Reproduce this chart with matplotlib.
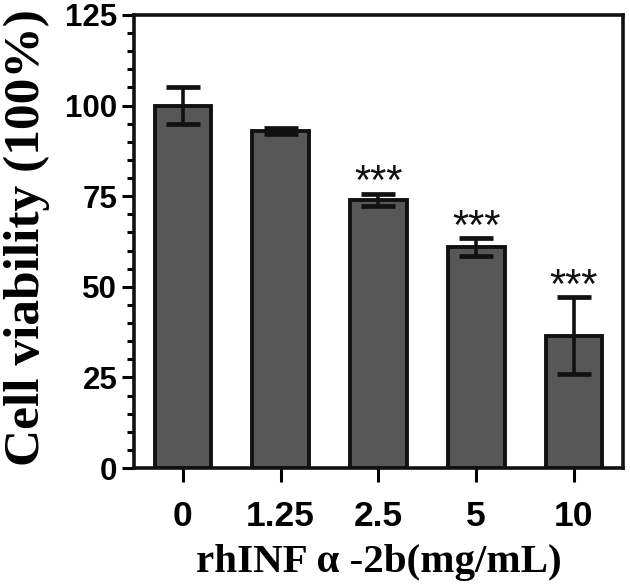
import numpy as np
import matplotlib
matplotlib.use("Agg")
import matplotlib.pyplot as plt
from matplotlib.ticker import MultipleLocator

# data
doses = ["0", "1.25", "2.5", "5", "10"]
viability = [100.0, 93.0, 74.0, 61.0, 36.5]
err = [5.0, 0.8, 1.7, 2.5, 10.7]
stars = ["", "", "***", "***", "***"]

fig = plt.figure(figsize=(6.3, 5.85), dpi=100)
ax = fig.add_axes([0.2127, 0.2, 0.776, 0.7744])

x = np.arange(len(doses))
ax.bar(x, viability, width=0.58, color="#575757", edgecolor="#111111",
       linewidth=2.8, zorder=2)
ax.errorbar(x, viability, yerr=err, fmt="none", ecolor="#111111",
            elinewidth=2.6, capsize=12.5, capthick=3.4, zorder=3)

for xi, v, e, s in zip(x, viability, err, stars):
    if s:
        ax.text(xi, v + e - 0.2, s, ha="center", va="baseline",
                fontsize=30, family="Liberation Sans", color="#111111")

ax.set_xlim(-0.5, 4.5)
ax.set_ylim(0, 125)
ax.yaxis.set_major_locator(MultipleLocator(25))
ax.yaxis.set_minor_locator(MultipleLocator(5))
ax.set_xticks(x)
ax.set_xticklabels(doses)

for sp in ax.spines.values():
    sp.set_linewidth(2.6)
    sp.set_color("#111111")

ax.tick_params(axis="y", which="major", length=9, width=2.2, pad=3,
               labelsize=22.5, direction="out")
ax.tick_params(axis="y", which="minor", length=5, width=2.2, direction="out")
ax.tick_params(axis="x", which="major", length=10, width=2.2, pad=13,
               labelsize=25.5, direction="out")
for lab in ax.get_xticklabels() + ax.get_yticklabels():
    lab.set_family("Liberation Sans")
    lab.set_fontweight("bold")

ax.set_ylabel("Cell viability (100%)", family="Liberation Serif",
              fontweight="bold", fontsize=37, va="center")
ax.yaxis.set_label_coords(-0.219, 0.508)
ax.set_xlabel("rhINF \u03b1 -2b(mg/mL)", family="Liberation Serif",
              fontweight="bold", fontsize=29.5, labelpad=8)

fig.savefig("out.png", dpi=100)
